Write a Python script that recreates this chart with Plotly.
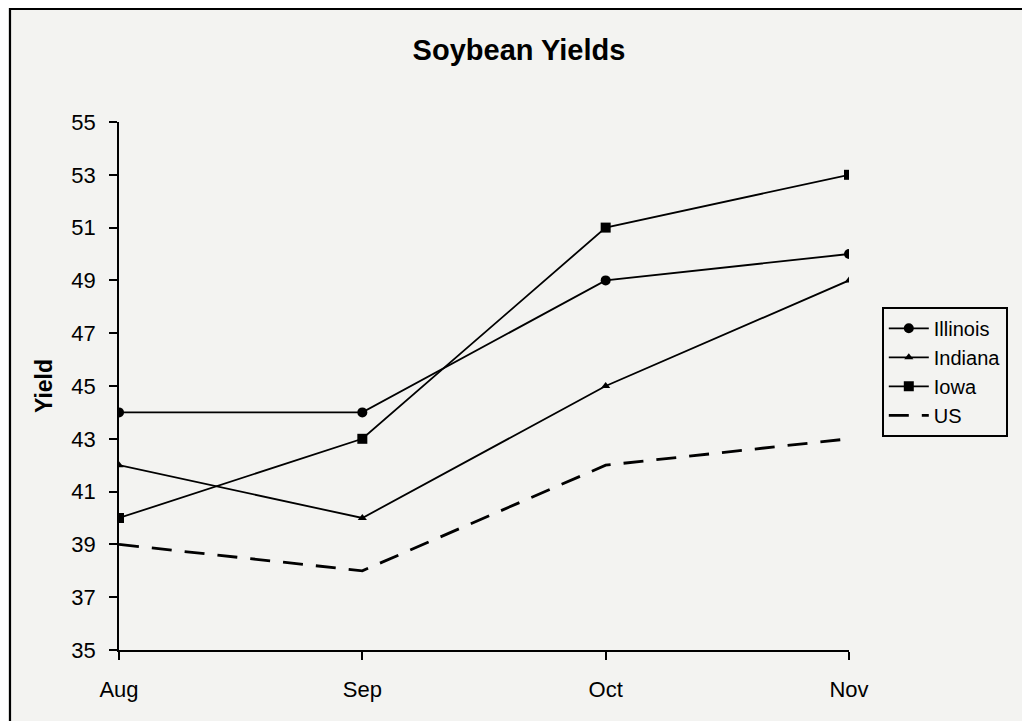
import plotly.graph_objects as go

months = ["Aug", "Sep", "Oct", "Nov"]
illinois = [44, 44, 49, 50]
indiana = [42, 40, 45, 49]
iowa = [40, 43, 51, 53]
us = [39, 38, 42, 43]
y_ticks = list(range(35, 56, 2))

FONT = "Liberation Sans, Arial, sans-serif"
BG = "#f3f3f1"

fig = go.Figure()
fig.add_trace(go.Scatter(x=months, y=illinois, name="Illinois", mode="lines+markers",
                         line=dict(color="black", width=1.8),
                         marker=dict(symbol="circle", size=10, color="black")))
fig.add_trace(go.Scatter(x=months, y=indiana, name="Indiana", mode="lines+markers",
                         line=dict(color="black", width=1.8),
                         marker=dict(symbol="triangle-up", size=8, color="black")))
fig.add_trace(go.Scatter(x=months, y=iowa, name="Iowa", mode="lines+markers",
                         line=dict(color="black", width=1.8),
                         marker=dict(symbol="square", size=10, color="black")))
fig.add_trace(go.Scatter(x=months, y=us, name="US", mode="lines",
                         line=dict(color="black", width=2.8, dash="20px,13px")))

fig.update_layout(
    width=1022, height=713,
    paper_bgcolor=BG, plot_bgcolor=BG,
    margin=dict(l=111, r=181, t=114, b=71),
    font=dict(family=FONT, size=22, color="black"),
    title=dict(text="<b>Soybean Yields</b>", x=511/1022, xanchor="center",
               y=1 - 42/713, yanchor="middle", font=dict(size=29, family=FONT)),
    xaxis=dict(type="category", range=[0, 3], showline=True, linecolor="black", linewidth=1.8,
               ticks="outside", ticklen=8, tickwidth=1.5, tickcolor="black", showgrid=False,
               zeroline=False, tickfont=dict(size=22), ticklabelstandoff=11),
    yaxis=dict(range=[35, 55], tickvals=y_ticks, showline=True, linecolor="black", linewidth=1.8,
               ticks="outside", ticklen=8, tickwidth=1.5, tickcolor="black", showgrid=False,
               zeroline=False, ticklabelstandoff=9,
               title=dict(text="<b>Yield</b>", standoff=12, font=dict(size=23)),
               tickfont=dict(size=22)),
    legend=dict(x=(882-119)/730, y=(650-307)/528, xanchor="left", yanchor="top",
                bordercolor="black", borderwidth=1.8, bgcolor=BG,
                font=dict(size=20), tracegroupgap=0, itemwidth=40),
    showlegend=True,
)

fig.add_shape(type="rect", xref="paper", yref="paper",
              x0=(10-119)/730, x1=(1050-119)/730, y0=(650-740)/528, y1=(650-9)/528,
              line=dict(color="black", width=2.2))

fig.write_html("out.html")
